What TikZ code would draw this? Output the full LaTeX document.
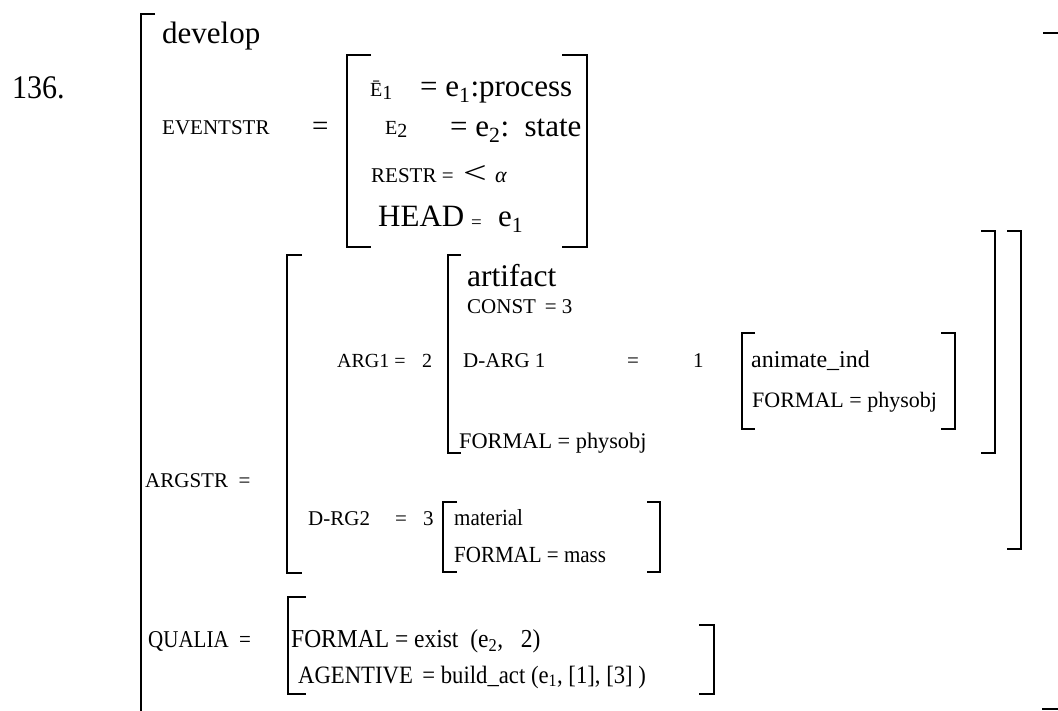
\documentclass[tikz,border=0pt]{standalone}
\usepackage{fontspec}
\setmainfont{Liberation Serif}
\usepackage{tikz}

\newcommand{\fsz}[1]{\fontsize{#1}{#1}\selectfont}
\newcommand{\lowsub}[1]{\raisebox{-3pt}{#1}}

\tikzset{
  txt/.style={anchor=base west, inner sep=0pt, font=\fsz{21}},
  big/.style={txt, font=\fsz{31}},
  brk/.style={line width=1.8pt}
}

\begin{document}
\begin{tikzpicture}[x=1pt, y=-1pt]
			\useasboundingbox (0, 0) rectangle (1058, 711);

			% outer frame
			\draw [brk] (155, 14) -- (141, 14) -- (141, 713);
			\draw [brk] (1043, 33) -- (1060, 33);
			\draw [brk] (1042, 709) -- (1060, 709);
			\node (num) at (12, 99) [txt, font=\fsz{30}] {\scalebox{1}[1.1]{136.}};
			\node (head) at (162, 44) [txt, font=\fsz{31}] {develop};

			% event structure
			\node (evstr) at (162, 135) [txt] {EVENTSTR};
			\node (eveq) at (312, 136) [txt, font=\fsz{29}] {=};
			\draw [brk] (371, 55) -- (347, 55) -- (347, 247) -- (371, 247);
			\draw [brk] (562, 55) -- (587, 55) -- (587, 247) -- (562, 247);
			\node (ea) at (370, 97) [txt, font=\fsz{20}] {Ē\lowsub{1}};
			\node (eaval) at (420, 97) [big] {= e\textsubscript{1}:process};
			\node (eb) at (385, 135) [txt, font=\fsz{20}] {E\lowsub{2}};
			\node (ebval) at (450, 137) [big] {= e\textsubscript{2}:\ \ state};
			\node (restr) at (371, 183) [txt] {RESTR =};
			\node (lt) at (463, 184) [txt, font=\fsz{42}] {\scalebox{1}[0.75]{<}};
			\node (alpha) at (495, 183) [txt, font=\fsz{22}\itshape] {α};
			\node (hd) at (378, 227) [big] {HEAD};
			\node (hdeq) at (471, 229) [txt, font=\fsz{19}] {=};
			\node (hdval) at (498, 227) [big] {e\textsubscript{1}};

			% argument structure
			\node (argstr) at (145, 487) [txt] {ARGSTR\ \ =};
			\draw [brk] (302, 255) -- (287, 255) -- (287, 573) -- (302, 573);
			\draw [brk] (1007, 231) -- (1021, 231) -- (1021, 549) -- (1007, 549);
			\node (argone) at (337, 367) [txt, font=\fsz{20}] {ARG1 =};
			\node (tagb) at (422, 367) [txt, font=\fsz{20}] {2};
			\draw [brk] (461, 255) -- (448, 255) -- (448, 453) -- (461, 453);
			\draw [brk] (981, 231) -- (995, 231) -- (995, 453) -- (981, 453);
			\node (art) at (467, 287) [txt, font=\fsz{31.5}] {artifact};
			\node (const) at (467, 314) [txt] {CONST\ \,= 3};
			\node (darg) at (463, 367) [txt] {D-ARG 1};
			\node (dargeq) at (627, 367) [txt] {=};
			\node (taga) at (693, 367) [txt] {1};
			\node (artform) at (459, 448) [txt, font=\fsz{22.3}] {FORMAL = physobj};

			\draw [brk] (755, 333) -- (742, 333) -- (742, 429) -- (755, 429);
			\draw [brk] (941, 333) -- (955, 333) -- (955, 429) -- (941, 429);
			\node (anim) at (751, 367) [txt, font=\fsz{24}] {animate\_ind};
			\node (animform) at (752, 407) [txt, font=\fsz{22}] {FORMAL = physobj};

			\node (dargb) at (308, 525) [txt] {D-RG2};
			\node (dargbeq) at (395, 525) [txt] {=};
			\node (tagc) at (423, 525) [txt] {3};
			\draw [brk] (457, 502) -- (443, 502) -- (443, 572) -- (457, 572);
			\draw [brk] (647, 502) -- (660, 502) -- (660, 572) -- (647, 572);
			\node (mat) at (454, 525) [txt] {\scalebox{1}[1.1]{material}};
			\node (matform) at (454, 562) [txt] {\scalebox{1}[1.1]{FORMAL = mass}};

			% qualia
			\node (qualia) at (148, 647) [txt] {\scalebox{1}[1.15]{QUALIA\ \ =}};
			\draw [brk] (306, 597) -- (288, 597) -- (288, 694) -- (306, 694);
			\draw [brk] (699, 625) -- (714, 625) -- (714, 694) -- (699, 694);
			\node (qform) at (291, 647) [txt, font=\fsz{23.5}] {\scalebox{1}[1.1]{FORMAL = exist\ \ (e\textsubscript{2},\ \ \ 2)}};
			\node (qagent) at (298, 683) [txt, font=\fsz{22.7}] {\scalebox{1}[1.1]{AGENTIVE\ \,= build\_act (e\textsubscript{1}, [1], [3] )}};
		\end{tikzpicture}
\end{document}
